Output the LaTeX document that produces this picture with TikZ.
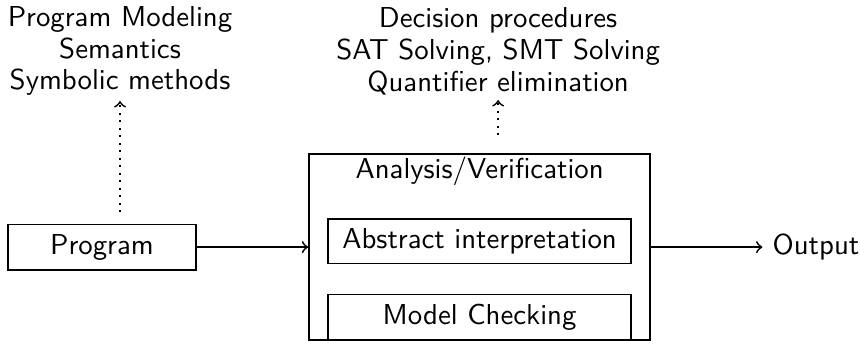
\documentclass[tikz,border=0pt]{standalone}
\usepackage{fontspec}

\begin{document}
\begin{tikzpicture}[>=to, every node/.style={font=\sffamily\fontsize{10}{11.1}\selectfont},
  box/.style={draw, semithick, minimum height=0.45cm},
  note/.style={align=center, anchor=south, inner sep=1.6pt}]
\useasboundingbox (0,0) rectangle (10.49,4.185);
\coordinate (d1) at (1.464,1.598); \coordinate (d2) at (6.076,2.538);
\node[box, minimum width=2.294cm] (prog) at (1.244,1.171) {Program};
\node[box, minimum width=4.16cm, minimum height=2.269cm] (ana) at (5.85,1.171) {};
\node[anchor=base] at (5.85,2.009) {Analysis/Verification};
\node[box, minimum width=3.697cm] (ai) at (5.85,1.244) {Abstract interpretation};
\node[box, minimum width=3.697cm] (mc) at (5.85,0.317) {Model Checking};
\node[anchor=west] (out) at (9.30,1.171) {Output};
\node[note] (sem) at (1.464,2.952) {Program Modeling\\Semantics\\Symbolic methods};
\node[note] (dec) at (6.076,2.964) {Decision procedures\\SAT Solving, SMT Solving\\Quantifier elimination};
\draw[->, semithick] (prog) -- (ana);
\draw[->, semithick] (ana) -- (out);
\draw[->, dotted, semithick] (d1) -- (sem.south);
\draw[->, dotted, semithick] (d2) -- (dec.south);
\end{tikzpicture}
\end{document}
